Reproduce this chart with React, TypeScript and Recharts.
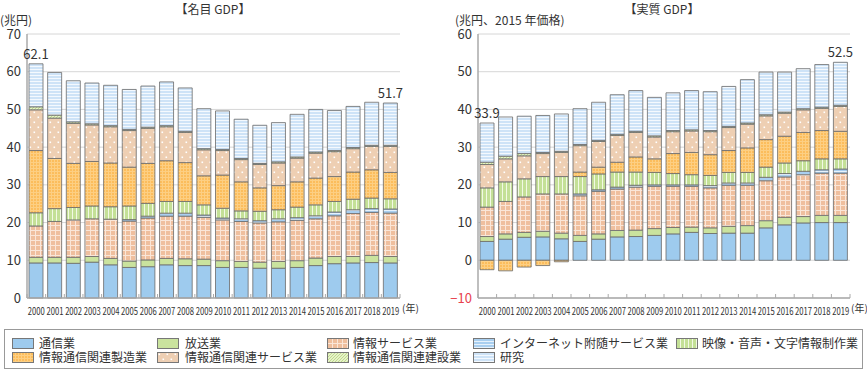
import React from 'react';
import { BarChart, Bar, XAxis, YAxis, CartesianGrid, LabelList } from 'recharts';

const years = ['2000','2001','2002','2003','2004','2005','2006','2007','2008','2009','2010','2011','2012','2013','2014','2015','2016','2017','2018','2019'];

const seriesNames = ['通信業','放送業','情報サービス業','インターネット附随サービス業','映像・音声・文字情報制作業','情報通信関連製造業','情報通信関連サービス業','情報通信関連建設業','研究'];

// 名目 GDP (兆円)
const nomTsushin = [9.3,9.3,9.2,9.5,8.8,8.1,8.3,8.8,8.6,8.6,8.1,8.1,7.9,7.9,8.1,8.6,9.1,9.3,9.4,9.3];
const nomHoso = [1.5,1.5,1.6,1.5,1.7,1.7,1.8,1.7,1.8,1.7,1.8,1.6,1.6,1.8,1.8,2.0,1.9,1.7,1.9,1.7];
const nomJoho = [8.3,9.5,9.9,10.0,10.4,10.6,11.1,11.2,11.3,11.1,10.8,10.6,10.4,10.5,10.7,10.4,10.8,11.4,11.4,11.5];
const nomNet = [0,0,0,0,0,0.4,0.5,0.8,0.8,0.6,0.5,0.7,0.6,0.8,0.7,0.8,1.0,1.0,1.0,1.1];
const nomEizo = [3.5,3.4,3.3,3.4,3.3,3.6,3.4,3.1,3.1,2.7,2.6,2.1,2.5,2.4,2.8,2.9,2.8,2.8,2.8,2.7];
const nomSeizo = [16.5,13.3,11.7,11.8,11.6,10.3,10.6,10.8,10.3,7.7,8.8,7.7,6.2,6.4,6.7,7.1,6.6,7.2,7.5,7.0];
const nomService = [10.8,10.7,10.6,9.7,9.6,9.7,9.3,9.0,8.0,6.9,6.5,5.9,6.2,6.0,6.3,6.6,6.6,6.2,6.2,6.9];
const nomKensetsu = [0.8,0.8,0.4,0.3,0.3,0.3,0.3,0.3,0.3,0.3,0.3,0.3,0.3,0.3,0.3,0.3,0.3,0.3,0.3,0.3];
const nomKenkyu = [11.4,11.3,10.9,10.8,10.7,10.6,10.9,11.6,11.5,10.6,10.2,10.4,10.1,10.4,11.3,11.3,10.6,10.9,11.4,11.2];
const nomLabels: (string | undefined)[] = ['62.1',undefined,undefined,undefined,undefined,undefined,undefined,undefined,undefined,undefined,undefined,undefined,undefined,undefined,undefined,undefined,undefined,undefined,undefined,'51.7'];

// 実質 GDP (兆円、2015年価格)
const realTsushin = [5.0,5.6,6.1,6.2,5.7,5.0,5.6,6.2,6.3,6.6,7.0,7.4,7.1,7.2,7.2,8.6,9.4,9.9,10.0,10.0];
const realHoso = [1.3,1.4,1.3,1.5,1.5,1.6,1.4,1.7,1.7,1.8,1.7,1.4,1.5,1.8,2.0,1.9,2.0,1.7,1.9,1.9];
const realJoho = [7.8,8.6,9.4,9.9,10.4,10.5,11.3,11.0,11.4,11.2,10.9,10.8,10.6,10.9,10.7,10.6,10.7,11.1,11.2,11.2];
const realNet = [0,0,0,0,0,0.5,0.4,0.5,0.5,0.4,0.4,0.4,0.6,0.6,0.6,0.9,0.9,0.9,0.9,1.1];
const realEizo = [5.1,5.2,4.8,4.6,4.6,4.6,4.2,4.0,3.5,3.3,3.0,2.7,2.7,2.8,2.8,2.7,2.8,2.8,2.9,2.7];
const realSeizo = [-2.5,-2.8,-1.8,-1.4,-0.4,1.2,1.8,2.6,4.0,3.6,5.3,5.9,5.5,5.8,6.5,7.3,7.1,7.5,7.5,7.3];
const realService = [6.2,6.1,6.1,6.1,6.4,7.0,6.8,7.1,6.5,5.8,5.8,5.7,6.1,6.1,6.3,6.3,6.1,6.0,5.9,6.6];
const realKensetsu = [0.6,0.7,0.6,0.3,0.3,0.3,0.3,0.3,0.3,0.3,0.3,0.3,0.3,0.3,0.3,0.3,0.3,0.3,0.3,0.3];
const realKenkyu = [10.4,10.4,9.9,9.8,9.9,9.5,10.1,10.5,10.8,10.2,10.0,10.4,10.3,10.6,11.5,11.3,10.6,10.6,11.3,11.4];
const realLabels: (string | undefined)[] = ['33.9',undefined,undefined,undefined,undefined,undefined,undefined,undefined,undefined,undefined,undefined,undefined,undefined,undefined,undefined,undefined,undefined,undefined,undefined,'52.5'];

const nomTicks = [0, 10, 20, 30, 40, 50, 60, 70];
const realTicks = [-10, 0, 10, 20, 30, 40, 50, 60];

const keys = ['s0','s1','s2','s3','s4','s5','s6','s7','s8'];
const fills = ['#9ecbee','#cae39e','url(#pGrid)','url(#pNet)','url(#pVert)','url(#pOrange)','url(#pDots)','url(#pDiag)','url(#pHoriz)'];

function buildRows(series: number[][], labels: (string | undefined)[]) {
  return years.map((y, i) => {
    const row: any = { year: y, label: labels[i] };
    series.forEach((arr, k) => { row[keys[k]] = arr[i]; });
    return row;
  });
}

const nomData = buildRows([nomTsushin, nomHoso, nomJoho, nomNet, nomEizo, nomSeizo, nomService, nomKensetsu, nomKenkyu], nomLabels);
const realData = buildRows([realTsushin, realHoso, realJoho, realNet, realEizo, realSeizo, realService, realKensetsu, realKenkyu], realLabels);

const FONT = '"Noto Sans CJK JP", "Noto Sans", sans-serif';
const PLOT_BOTTOM = 298;

const XTick = (props: any) => {
  const { x, y, payload, index, band } = props;
  const half = (band || 18.65) / 2;
  return (
    <g>
      <line x1={x - half} x2={x - half} y1={PLOT_BOTTOM - 4} y2={PLOT_BOTTOM} stroke="#aaaaaa" strokeWidth={1} />
      {index === years.length - 1 ? (
        <line x1={x + half} x2={x + half} y1={PLOT_BOTTOM - 4} y2={PLOT_BOTTOM} stroke="#aaaaaa" strokeWidth={1} />
      ) : null}
      <text x={x} y={y + 9} textAnchor="middle" fontSize={10} fill="#333" fontFamily={FONT}
        textLength={17} lengthAdjust="spacingAndGlyphs">{payload.value}</text>
    </g>
  );
};

const YTick = (props: any) => {
  const { x, y, payload } = props;
  const neg = payload.value < 0;
  return (
    <text x={x} y={y} dy={4.5} textAnchor="end" fontSize={13} fill={neg ? '#e8414e' : '#333'} fontFamily={FONT}>
      {neg ? '−' + Math.abs(payload.value) : payload.value}
    </text>
  );
};

const Patterns = () => (
  <svg width={0} height={0} style={{ position: 'absolute' }}>
    <defs>
      <pattern id="pGrid" width="5" height="5" patternUnits="userSpaceOnUse">
        <rect width="5" height="5" fill="#efbf9e" />
        <path d="M0 0.5H5M0.5 0V5" stroke="#fae6d8" strokeWidth="1" />
      </pattern>
      <pattern id="pNet" width="3" height="3" patternUnits="userSpaceOnUse">
        <rect width="3" height="3" fill="#a9cff0" />
        <path d="M0 0.5H3" stroke="#e6f2fc" strokeWidth="1" />
      </pattern>
      <pattern id="pVert" width="4" height="4" patternUnits="userSpaceOnUse">
        <rect width="4" height="4" fill="#c4e097" />
        <path d="M0.5 0V4" stroke="#f2f9e4" strokeWidth="1" />
      </pattern>
      <pattern id="pOrange" width="3" height="3" patternUnits="userSpaceOnUse">
        <rect width="3" height="3" fill="#fcbd5c" />
        <path d="M0 0.5H3M0.5 0V3" stroke="#fdcf83" strokeWidth="1" />
      </pattern>
      <pattern id="pDots" width="8" height="10" patternUnits="userSpaceOnUse">
        <rect width="8" height="10" fill="#eecfb3" />
        <rect x="1.5" y="1.5" width="1.6" height="1.6" fill="#ffffff" />
        <rect x="5.5" y="6.5" width="1.6" height="1.6" fill="#ffffff" />
      </pattern>
      <pattern id="pDiag" width="3" height="3" patternUnits="userSpaceOnUse">
        <rect width="3" height="3" fill="#e6f2c8" />
        <path d="M0 3L3 0M-1 1L1 -1M2 4L4 2" stroke="#b5d47e" strokeWidth="0.8" />
      </pattern>
      <pattern id="pHoriz" width="3" height="3" patternUnits="userSpaceOnUse">
        <rect width="3" height="3" fill="#cee3f7" />
        <path d="M0 0.5H3" stroke="#f4f9fe" strokeWidth="1" />
      </pattern>
    </defs>
  </svg>
);

function StackChart(props: { data: any[]; width: number; yWidth: number; rightMargin: number; domain: [number, number]; ticks: number[] }) {
  const { data, width, yWidth, rightMargin, domain, ticks } = props;
  const band = (width - yWidth - rightMargin) / data.length;
  return (
    <BarChart width={width} height={320} data={data} stackOffset="sign" barSize={14}
      margin={{ top: 34, right: rightMargin, bottom: 0, left: 0 }}>
      <CartesianGrid vertical={false} stroke="#d6d6d6" strokeWidth={1} />
      <XAxis dataKey="year" interval={0} tickLine={false} axisLine={{ stroke: '#aaaaaa', strokeWidth: 1.5 }} height={22} tick={<XTick band={band} />} />
      <YAxis width={yWidth} domain={domain} ticks={ticks} interval={0} tickLine={false} tickSize={4} tickMargin={2}
        axisLine={{ stroke: '#aaaaaa', strokeWidth: 1.5 }} tick={<YTick />} />
      {keys.map((k, i) => (
        <Bar key={k} dataKey={k} stackId="a" fill={fills[i]} stroke="#6a6a6a" strokeWidth={0.8} isAnimationActive={false}>
          {i === keys.length - 1 ? (
            <LabelList dataKey="label" position="top" offset={5} fontSize={13} fill="#333" fontFamily={FONT} />
          ) : null}
        </Bar>
      ))}
    </BarChart>
  );
}

const legendCols = [12, 157, 327, 473, 676];
const legendTextCols = [39, 185, 353, 500, 702];

export default function App() {
  return (
    <div style={{ position: 'absolute', left: 0, top: 0, width: 867, height: 370, background: '#fff', fontFamily: FONT, color: '#333', overflow: 'hidden' }}>
      <Patterns />
      <div style={{ position: 'absolute', left: 0, top: 0 }}>
        <StackChart data={nomData} width={420} yWidth={27} rightMargin={20} domain={[0, 70]} ticks={nomTicks} />
      </div>
      <div style={{ position: 'absolute', left: 430, top: 0 }}>
        <StackChart data={realData} width={437} yWidth={48} rightMargin={17} domain={[-10, 60]} ticks={realTicks} />
      </div>

      <div style={{ position: 'absolute', left: 163, width: 100, top: 2, textAlign: 'center', fontSize: 12, lineHeight: '14px' }}>【名目 GDP】</div>
      <div style={{ position: 'absolute', left: 612, width: 100, top: 2, textAlign: 'center', fontSize: 12, lineHeight: '14px' }}>【実質 GDP】</div>
      <div style={{ position: 'absolute', left: 0, top: 13, fontSize: 12, lineHeight: '13px', whiteSpace: 'nowrap' }}>(兆円)</div>
      <div style={{ position: 'absolute', left: 455, top: 13, fontSize: 12, lineHeight: '13px', whiteSpace: 'nowrap' }}>(兆円、2015 年価格)</div>
      <div style={{ position: 'absolute', left: 402, top: 301, fontSize: 10, lineHeight: '13px', whiteSpace: 'nowrap' }}>(年)</div>
      <div style={{ position: 'absolute', left: 851, top: 301, fontSize: 10, lineHeight: '13px', whiteSpace: 'nowrap' }}>(年)</div>

      <div style={{ position: 'absolute', left: 4, top: 329, width: 857, height: 38, border: '1px solid #999' }} />
      {seriesNames.map((name, i) => {
        const row = i < 5 ? 0 : 1;
        const col = i < 5 ? i : i - 5;
        const cy = row === 0 ? 343 : 357;
        return (
          <React.Fragment key={name}>
            <svg style={{ position: 'absolute', left: legendCols[col], top: cy - 5 }} width={22} height={11}>
              <rect x={0.5} y={0.5} width={21} height={10} fill={fills[i]} stroke="#777" strokeWidth={1} />
            </svg>
            <div style={{ position: 'absolute', left: legendTextCols[col], top: cy - 7, fontSize: 12, lineHeight: '14px', whiteSpace: 'nowrap' }}>{name}</div>
          </React.Fragment>
        );
      })}
    </div>
  );
}
